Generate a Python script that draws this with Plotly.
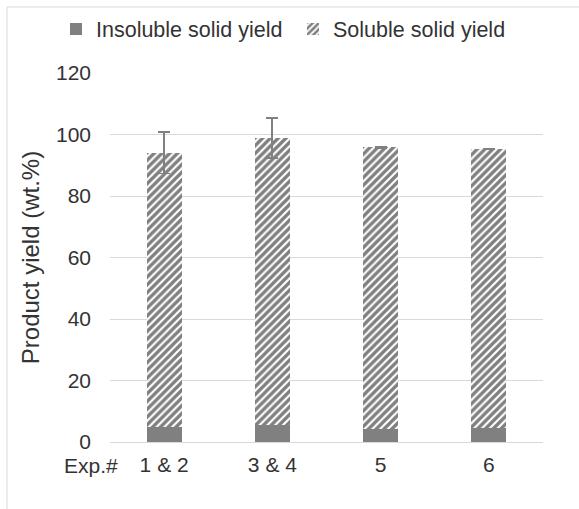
import plotly.graph_objects as go

# Experiment groups and yields (wt.%)
experiments = ["1 & 2", "3 & 4", "5", "6"]
insoluble_yield = [4.8, 5.5, 4.1, 4.5]
soluble_yield = [89.3, 93.3, 91.7, 90.8]
insoluble_err = [0.6, 0.6, 0.0, 0.0]
soluble_err = [6.8, 6.5, 0.3, 0.0]

y_ticks = [0, 20, 40, 60, 80, 100, 120]

W, H = 579, 509
M = dict(l=110, r=36, t=73, b=67)
TEXT = "#333333"
GRID = "#d9d9d9"
FONT = "Liberation Sans, Arial, sans-serif"
FS = 21

pw = W - M["l"] - M["r"]
ph = H - M["t"] - M["b"]

fig = go.Figure()
fig.add_trace(go.Bar(
    x=experiments, y=insoluble_yield, name="Insoluble solid yield",
    marker=dict(color="#808080", line=dict(width=0)),
    error_y=dict(type="data", array=insoluble_err, color="#808080",
                 thickness=1.5, width=5),
    legend="legend",
))
fig.add_trace(go.Bar(
    x=experiments, y=soluble_yield, name="Soluble solid yield",
    marker=dict(color="white", line=dict(width=0),
                pattern=dict(shape="/", fgcolor="black", bgcolor="white",
                             size=5.5, solidity=0.6)),
    error_y=dict(type="data", array=soluble_err, color="#808080",
                 thickness=1.8, width=6),
    legend="legend2",
))

# Thin frame around the chart area (top and left edges)
fx0 = (7 - M["l"]) / pw
fy0 = (H - M["b"] - 7) / ph
fig.add_shape(type="line", xref="paper", yref="paper", x0=fx0, x1=2, y0=fy0, y1=fy0,
              line=dict(color=GRID, width=1))
fig.add_shape(type="line", xref="paper", yref="paper", x0=fx0, x1=fx0, y0=fy0, y1=-2,
              line=dict(color=GRID, width=1))

fig.add_annotation(text="Exp.#", xref="paper", yref="paper",
                   x=(62 - M["l"]) / pw, y=-24 / ph, xanchor="left", yanchor="middle",
                   showarrow=False, font=dict(size=FS, color=TEXT, family=FONT))

# Legends placed in container coordinates so they never push the plot margins
leg_common = dict(orientation="h", yanchor="middle", xanchor="left",
                  xref="container", yref="container", y=1 - 29 / H,
                  font=dict(size=21.5, color=TEXT, family=FONT), itemwidth=30,
                  bgcolor="rgba(0,0,0,0)", borderwidth=0)

fig.update_layout(
    width=W, height=H, margin=dict(M, autoexpand=False),
    barmode="stack", bargap=0.676,
    plot_bgcolor="white", paper_bgcolor="white",
    font=dict(family=FONT, size=FS, color=TEXT),
    showlegend=True,
    legend=dict(x=56 / W, **leg_common),
    legend2=dict(x=293 / W, **leg_common),
    xaxis=dict(showgrid=False, showline=False, ticks="", ticklabelstandoff=8,
               tickfont=dict(size=FS, color=TEXT, family=FONT)),
    yaxis=dict(range=[0, 120], tickvals=y_ticks, showgrid=True, gridcolor=GRID,
               gridwidth=1, zeroline=True, zerolinecolor=GRID, zerolinewidth=1,
               showline=False, ticks="", ticklabelstandoff=18,
               tickfont=dict(size=FS, color=TEXT, family=FONT),
               title=dict(text="Product yield (wt.%)", standoff=9,
                          font=dict(size=24, color=TEXT, family=FONT))),
)

fig.write_html("out.html")
